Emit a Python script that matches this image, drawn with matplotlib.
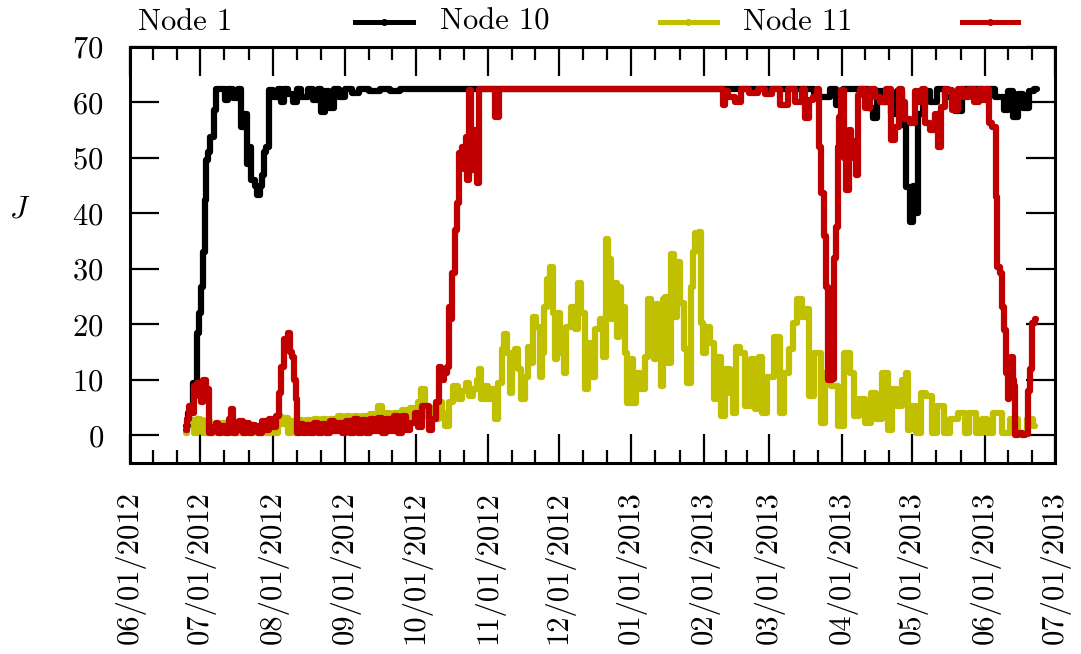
import numpy as np
import pandas as pd
import matplotlib

matplotlib.use("Agg")
import matplotlib.pyplot as plt
import matplotlib.dates as mdates
from matplotlib.lines import Line2D
from matplotlib.ticker import FixedLocator

plt.rcParams["font.family"] = ["cmr10", "DejaVu Serif"]
plt.rcParams["mathtext.fontset"] = "cm"
plt.rcParams["axes.formatter.use_mathtext"] = True

START = np.datetime64("2012-06-01T00:00")
X_MIN, X_MAX = "2012-06-01", "2013-07-01"

labels = ["Node 1", "Node 10", "Node 11"]
colors = ["#000000", "#c0c000", "#c00000"]

# days after 06/01/2012, value of J
node1_days = [23.9, 25.6, 27.8, 29.0, 29.9, 30.7, 31.6, 32.0, 32.9, 33.7, 35.0, 36.3, 37.1,
              39.7, 41.0, 42.7, 45.3, 47.0, 47.8, 49.1, 50.4, 51.2, 52.5, 53.8, 54.7, 55.9,
              56.8, 57.6, 58.5, 59.8, 62.3, 64.0, 64.9, 66.2, 68.3, 70.5, 71.7, 74.7, 76.9,
              79.4, 81.1, 82.4, 83.7, 86.3, 87.5, 90.9, 93.1, 96.1, 99.1, 104.6, 108.9,
              113.2, 117.4, 286.1, 298.0, 299.7, 303.2, 305.3, 313.8, 316.8, 318.1, 320.2,
              323.7, 326.6, 328.8, 330.9, 332.2, 333.9, 334.8, 336.0, 337.3, 339.5, 343.7,
              345.8, 350.1, 354.4, 356.5, 367.2, 371.5, 374.5, 375.7, 378.7, 380.0, 383.0,
              385.1, 387.3]
node1_vals = [1.6, 4.0, 9.5, 18.5, 22.0, 26.8, 33.0, 42.5, 49.7, 51.0, 53.8, 58.7, 62.5,
              62.5, 60.5, 62.5, 60.8, 62.5, 55.6, 58.0, 49.0, 52.0, 46.0, 45.0, 43.4, 45.0,
              47.0, 51.0, 52.0, 62.3, 61.0, 62.5, 60.0, 62.5, 61.5, 60.0, 62.5, 61.0, 62.5,
              60.5, 62.5, 58.3, 62.0, 59.0, 62.5, 61.0, 62.5, 61.8, 62.5, 62.0, 62.5,
              62.0, 62.5, 62.5, 61.0, 62.5, 59.6, 62.5, 62.5, 59.0, 57.2, 62.0,
              60.0, 58.0, 62.0, 56.0, 44.8, 38.5, 45.0, 40.0, 58.0, 62.0, 60.0,
              62.5, 61.0, 58.5, 62.5, 62.5, 61.0, 58.7, 62.0, 57.4, 61.5, 59.0,
              62.0, 62.5]

node10_days = [23.9, 24.8, 26.5, 27.8, 29.0, 30.7, 32.0, 33.3, 35.0, 36.7, 38.4, 40.1, 41.8,
               43.6, 45.3, 47.0, 48.7, 50.4, 52.1, 53.8, 55.5, 57.2, 58.9, 60.6, 62.3, 64.0,
               65.3, 66.6, 67.9, 69.6, 71.3, 72.6, 74.3, 76.0, 77.7, 79.4, 81.1, 82.8, 84.5,
               86.3, 88.0, 89.7, 91.4, 93.1, 94.8, 96.5, 98.2, 99.9, 101.6, 103.3, 105.0,
               106.7, 108.5, 110.2, 111.9, 113.6, 115.3, 117.0, 118.7, 120.4, 122.1, 123.8,
               125.1, 126.8, 128.9, 131.1, 132.4, 134.1, 135.3, 137.1, 138.8, 140.9, 142.6,
               143.9, 145.6, 147.3, 148.6,
               149.4, 150.7, 152.4, 153.7, 155.0, 156.3, 158.0, 159.3, 160.5, 161.4, 162.7,
               163.5, 165.2, 166.5, 167.8, 169.5, 170.4, 171.6, 172.5, 174.2, 175.5, 176.3,
               177.2, 178.5, 180.2, 180.6, 182.3, 182.7, 184.5, 185.7, 187.0, 189.2, 190.9,
               192.1, 193.4, 195.1, 196.4, 197.7, 199.8, 201.5, 202.8, 203.7, 204.9, 205.8,
               207.1, 208.4, 209.2, 210.5, 212.2, 212.6, 214.3, 215.6, 216.9, 219.0, 220.7,
               221.6, 222.9, 224.2, 225.0, 225.9, 227.2, 227.6, 229.7, 230.1, 231.8, 232.7,
               234.4, 235.7, 237.0, 238.7, 240.0, 240.8, 242.1, 243.4, 244.2, 245.5, 246.8,
               248.5, 249.8, 251.9, 253.2, 255.3, 257.0, 258.3, 259.6, 261.7, 263.9, 266.0,
               268.1,
               269.0, 271.1, 273.3, 276.3, 278.4, 280.5, 282.7, 283.9, 286.1, 288.2, 289.5,
               290.4, 293.8, 295.9, 298.0, 301.0, 303.2, 306.2, 308.3, 309.6, 312.6, 315.2,
               317.3, 320.2, 322.4, 324.5, 326.6, 328.8, 330.5, 331.9, 332.2, 334.3, 337.3,
               338.6, 341.6, 342.9, 346.7, 348.8, 351.4, 355.3, 357.4, 359.5, 362.9, 365.1,
               367.2, 370.2, 374.5, 377.0, 381.3, 385.1, 386.4]
node10_vals = [0.5, 2.5, 2.8, 0.5, 3.0, 2.8, 0.5, 2.5, 0.5, 2.0, 0.5, 2.3, 0.5,
               2.0, 0.5, 1.8, 0.5, 2.0, 0.5, 1.5, 0.5, 2.0, 0.5, 2.0, 0.5, 3.5,
               2.0, 3.2, 0.5, 2.5, 0.5, 2.8, 1.0, 2.8, 1.0, 3.0, 1.0, 3.0, 1.2,
               3.0, 1.5, 3.5, 1.5, 3.5, 1.5, 3.5, 1.5, 3.5, 1.5, 3.8, 2.0,
               5.2, 2.0, 4.0, 2.0, 4.0, 2.0, 4.5, 2.5, 5.0, 2.5, 6.0,
               8.3, 3.5, 5.0, 3.0, 6.0, 4.0, 1.7, 6.0, 8.8, 6.5, 8.0,
               9.5, 7.0, 8.3, 10.0,
               11.9, 6.5, 8.8, 6.5, 8.3, 2.9, 9.5, 15.5, 18.2, 14.9, 7.7,
               14.9, 15.5, 11.9, 6.5, 10.6, 16.0, 13.1, 21.4, 19.6, 10.6, 14.9,
               23.2, 28.1, 30.4, 22.1, 13.7, 22.1, 14.9, 11.3, 19.6, 23.2, 19.1,
               27.5, 22.1, 8.3, 16.7, 10.6, 19.1, 20.9, 14.2, 35.3, 31.7, 20.9,
               27.5, 17.8, 26.8, 23.2, 14.9, 5.9, 13.7, 5.9, 11.3, 8.3, 14.2,
               24.5, 20.9, 13.7, 23.6, 20.9, 8.8, 24.5, 25.0, 13.1, 32.6, 21.4,
               31.3, 23.9, 15.5, 9.5, 26.8, 33.1, 36.5, 36.7, 20.3, 14.9, 19.6,
               16.7, 6.5, 14.2, 3.4, 11.9, 7.7, 4.1, 16.0, 14.9, 5.2, 13.7,
               4.7,
               14.2, 4.1, 10.6, 17.8, 4.1, 11.3, 15.5, 20.3, 24.5, 21.4, 22.7,
               7.0, 14.9, 2.3, 11.3, 8.8, 1.7, 14.9, 11.3, 3.4, 6.5, 2.3,
               7.7, 2.9, 11.3, 1.0, 8.3, 5.2, 10.0, 11.3, 1.0, 5.2, 0.5,
               7.7, 7.0, 0.5, 5.2, 0.5, 2.9, 4.1, 0.5, 4.1, 0.5, 2.9,
               0.5, 4.1, 0.5, 2.9, 0.5, 2.9, 1.6]

node11_days = [23.9, 24.8, 25.6, 26.9, 27.8, 29.0, 29.9, 30.7, 32.0, 32.9, 33.3, 34.2, 35.9,
               37.1, 38.4, 39.7, 41.4, 42.7, 43.6, 44.4, 45.7, 47.4, 48.7, 50.0, 51.2, 52.9,
               54.2, 55.5, 57.2, 58.5, 59.8, 61.5, 62.8, 64.0, 65.3, 66.2, 67.0, 67.5, 68.7,
               69.6, 70.5, 71.3, 71.7, 73.4, 74.7, 76.4, 77.7, 79.4, 81.1, 82.8, 84.5, 86.3,
               88.0, 89.7, 91.4, 93.1, 94.8, 96.5, 98.2, 99.9, 101.6, 103.3, 105.0, 106.7,
               108.5, 110.2, 111.9, 113.6, 115.3, 117.0, 118.7, 120.8, 122.5, 123.8, 125.5,
               126.8, 128.1, 129.8, 131.1, 132.4, 133.3, 134.5, 135.8, 136.2, 137.1, 137.9,
               139.2, 140.1, 140.9, 142.2, 143.0, 143.9, 144.3, 145.2, 145.6, 146.5, 147.3,
               148.6, 149.0, 155.8, 156.3, 157.1, 157.6, 252.8, 253.2, 254.5, 256.2, 260.5,
               261.3, 267.7, 269.0, 273.3, 274.6, 280.5, 281.8, 286.1, 287.4, 289.1, 290.4,
               292.5, 293.8, 294.6, 295.9, 296.8, 297.6, 298.9, 300.2, 300.6, 301.0, 301.9,
               302.3, 303.2, 304.4, 305.3, 306.2, 307.4, 308.7, 309.6, 310.4, 310.9, 312.6,
               315.2, 316.8, 319.4, 321.5, 323.7, 325.8, 327.5, 328.8, 330.1, 331.9, 334.3,
               336.0, 337.3, 339.0, 340.3, 342.9, 344.6, 345.8, 347.1, 348.8, 350.1, 352.3,
               354.4, 357.4, 359.5, 361.7, 363.4, 365.1, 366.3, 367.2, 369.3, 370.2, 370.6,
               372.3, 372.8, 374.0, 374.5, 374.9, 375.7, 376.6, 377.4, 377.9, 378.0, 380.0,
               381.7, 383.0, 383.9, 384.3, 385.1, 385.6, 386.9]
node11_vals = [1.0, 3.0, 5.2, 4.0, 8.8, 9.5, 7.0, 6.0, 10.0, 7.0, 8.3, 0.5, 1.5,
               2.3, 0.5, 1.6, 0.5, 3.0, 4.7, 0.5, 1.0, 2.5, 0.5, 2.3, 0.5, 1.8,
               1.6, 0.5, 2.5, 1.0, 2.9, 1.5, 3.5, 7.7, 12.4, 17.3, 16.0, 18.5, 15.0,
               14.2, 10.0, 6.5, 0.5, 2.0, 0.5, 1.8, 0.5, 2.2, 0.5, 2.0, 0.5, 2.5,
               0.7, 2.2, 0.5, 2.5, 0.5, 3.0, 0.5, 2.8, 0.5, 3.0, 0.7, 3.2,
               0.5, 3.0, 0.8, 3.5, 0.5, 3.5, 1.0, 2.3, 4.0, 1.5, 5.2,
               5.2, 1.0, 3.0, 6.0, 12.4, 10.0, 11.3, 12.4, 23.2, 21.0, 29.3,
               37.0, 41.9, 50.9, 52.0, 48.0, 53.8, 46.0, 62.3, 50.0, 47.9, 55.0,
               45.5, 62.5, 62.5, 57.4, 57.4, 62.5, 62.5, 59.6, 62.0, 61.0, 60.0,
               62.5, 61.7, 62.5, 61.5, 62.5, 59.6, 62.5, 60.0, 62.5, 57.2, 60.5,
               61.0, 62.5, 52.0, 43.7, 36.0, 26.8, 10.0, 10.1, 20.0, 32.0, 37.6,
               52.0, 57.4, 62.3, 50.0, 44.3, 55.0, 53.0, 50.0, 47.0, 61.4, 62.5,
               59.0, 62.5, 61.0, 60.0, 62.5, 53.3, 55.6, 62.5, 60.0, 57.0, 56.3,
               62.0, 60.0, 62.5, 56.3, 55.0, 58.0, 52.0, 59.2, 62.5, 62.3, 58.7,
               62.5, 61.0, 62.5, 60.0, 62.5, 60.5, 62.5, 56.3, 55.6, 43.0, 30.4,
               29.3, 23.2, 19.0, 11.3, 6.5, 10.0, 14.2, 10.0, 8.8, 0.0, 0.5,
               0.0, 0.3, 8.0, 11.9, 12.0, 20.3, 20.9]

series = [(node1_days, node1_vals), (node10_days, node10_vals), (node11_days, node11_vals)]


def to_dates(days):
    secs = np.round(np.asarray(days) * 86400).astype("timedelta64[s]")
    return START + secs


fig = plt.figure(figsize=(10.81, 6.54), dpi=100)
ax = fig.add_axes([0.1203, 0.2920, 0.8557, 0.6361])

for (d, v), c in zip(series, colors):
    ax.plot(to_dates(d), v, color=c, lw=4.5, drawstyle="steps-mid",
            solid_joinstyle="round", solid_capstyle="round")

ax.set_xlim(np.datetime64(X_MIN), np.datetime64(X_MAX))
ax.set_ylim(-5, 70)
ax.set_yticks(np.arange(0, 71, 10))

ax.xaxis.set_major_locator(mdates.MonthLocator())
ax.xaxis.set_major_formatter(mdates.DateFormatter("%m/%d/%Y"))
month_starts = pd.date_range(X_MIN, X_MAX, freq="MS")
minor = []
for a, b in zip(month_starts[:-1], month_starts[1:]):
    minor += [a + (b - a) / 3, a + 2 * (b - a) / 3]
ax.xaxis.set_minor_locator(FixedLocator(mdates.date2num(minor)))

ax.tick_params(which="both", direction="in", top=True, right=True, width=1.6, labelsize=22)
ax.tick_params(which="major", length=21)
ax.tick_params(which="minor", length=9.5)
ax.tick_params(axis="x", which="major", pad=20, labelrotation=90)
ax.tick_params(axis="y", which="major", pad=19)
for s in ax.spines.values():
    s.set_linewidth(2.2)

ax.set_ylabel("$J$", rotation=0, fontsize=22)
ax.yaxis.set_label_coords(-0.119, 0.575)

# key along the top, text first then sample
key_text_x = [0.1277, 0.4070, 0.6873]
key_line_x = [(0.3284, 0.3821), (0.6105, 0.6633), (0.8899, 0.9417)]
key_y = 0.9664
for lab, c, tx, (x0, x1) in zip(labels, colors, key_text_x, key_line_x):
    fig.text(tx, key_y, lab, fontsize=22, ha="left", va="center")
    fig.add_artist(Line2D([x0, (x0 + x1) / 2, x1], [key_y, key_y, key_y], color=c, lw=3.6,
                          marker="o", markersize=4, markevery=[1],
                          transform=fig.transFigure))

fig.savefig("out.png", dpi=100)
